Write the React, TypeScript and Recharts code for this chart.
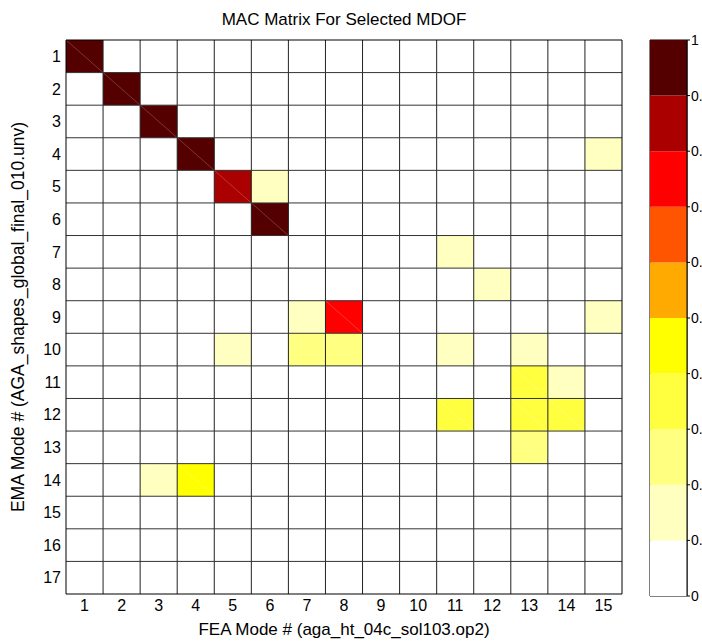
import React from 'react';
import {
  ScatterChart,
  Scatter,
  XAxis,
  YAxis,
  ReferenceArea,
  ReferenceLine,
  Label,
  BarChart,
  Bar,
} from 'recharts';

// FEA modes on x, EMA modes on y
const feaModes = [1, 2, 3, 4, 5, 6, 7, 8, 9, 10, 11, 12, 13, 14, 15];
const emaModes = [1, 2, 3, 4, 5, 6, 7, 8, 9, 10, 11, 12, 13, 14, 15, 16, 17];

// MAC values, one row per EMA mode (cols = FEA modes 1..15)
const macRows: number[][] = [
  [0.98, 0, 0, 0, 0, 0, 0, 0, 0, 0, 0, 0, 0, 0, 0],
  [0, 0.97, 0, 0, 0, 0, 0, 0, 0, 0, 0, 0, 0, 0, 0],
  [0, 0, 0.97, 0, 0, 0, 0, 0, 0, 0, 0, 0, 0, 0, 0],
  [0, 0, 0, 0.96, 0, 0, 0, 0, 0, 0, 0, 0, 0, 0, 0.14],
  [0, 0, 0, 0, 0.86, 0.15, 0, 0, 0, 0, 0, 0, 0, 0, 0],
  [0, 0, 0, 0, 0, 0.95, 0, 0, 0, 0, 0, 0, 0, 0, 0],
  [0, 0, 0, 0, 0, 0, 0, 0, 0, 0, 0.13, 0, 0, 0, 0],
  [0, 0, 0, 0, 0, 0, 0, 0, 0, 0, 0, 0.14, 0, 0, 0],
  [0, 0, 0, 0, 0, 0, 0.15, 0.76, 0, 0, 0, 0, 0, 0, 0.14],
  [0, 0, 0, 0, 0.15, 0, 0.26, 0.27, 0, 0, 0.15, 0, 0.15, 0, 0],
  [0, 0, 0, 0, 0, 0, 0, 0, 0, 0, 0, 0, 0.36, 0.16, 0],
  [0, 0, 0, 0, 0, 0, 0, 0, 0, 0, 0.35, 0, 0.37, 0.34, 0],
  [0, 0, 0, 0, 0, 0, 0, 0, 0, 0, 0, 0, 0.26, 0, 0],
  [0, 0, 0.15, 0.45, 0, 0, 0, 0, 0, 0, 0, 0, 0, 0, 0],
  [0, 0, 0, 0, 0, 0, 0, 0, 0, 0, 0, 0, 0, 0, 0],
  [0, 0, 0, 0, 0, 0, 0, 0, 0, 0, 0, 0, 0, 0, 0],
  [0, 0, 0, 0, 0, 0, 0, 0, 0, 0, 0, 0, 0, 0, 0],
];

// colour levels (10 bands, reversed "hot")
const levels = [0, 0.1, 0.2, 0.3, 0.4, 0.5, 0.6, 0.7, 0.8, 0.9, 1];
const levelColors = [
  '#ffffff', '#ffffbf', '#ffff80', '#ffff40', '#ffff00',
  '#ffaa00', '#ff5500', '#ff0000', '#aa0000', '#550000',
];

const colorFor = (v: number) => {
  let idx = Math.floor(v * 10);
  if (idx > 9) idx = 9;
  if (idx < 0) idx = 0;
  return levelColors[idx];
};

const cells = macRows.flatMap((row, r) =>
  row.map((mac, c) => ({ ema: emaModes[r], fea: feaModes[c], mac }))
);
const coloured = cells.filter((c) => c.mac >= levels[1]);

const colorbarRow: Record<string, number | string> = { name: 'MAC' };
levelColors.forEach((_, i) => {
  colorbarRow[`b${i}`] = levels[i + 1] - levels[i];
});

const font = '"Liberation Sans", Arial, sans-serif';

export default function App() {
  return (
    <div
      style={{
        position: 'absolute',
        left: 0,
        top: 0,
        width: 702,
        height: 644,
        background: '#fff',
        fontFamily: font,
        overflow: 'hidden',
      }}
    >
      <div
        style={{
          position: 'absolute',
          left: 66,
          width: 556,
          top: 10,
          textAlign: 'center',
          fontSize: 17,
          color: '#000',
        }}
      >
        MAC Matrix For Selected MDOF
      </div>

      <div style={{ position: 'absolute', left: 0, top: 0 }}>
        <ScatterChart width={640} height={644} margin={{ top: 40, right: 18, bottom: 0, left: 0 }}>
          <XAxis
            type="number"
            dataKey="fea"
            domain={[0.5, 15.5]}
            ticks={feaModes}
            interval={0}
            allowDataOverflow
            tickLine={false}
            axisLine={{ stroke: '#000' }}
            height={50}
            tickSize={4}
            tick={{ fill: '#000', fontSize: 16 }}
          >
            <Label
              value="FEA Mode # (aga_ht_04c_sol103.op2)"
              position="insideBottom"
              offset={9}
              style={{ fill: '#000', fontSize: 17 }}
            />
          </XAxis>
          <YAxis
            type="number"
            dataKey="ema"
            domain={[0.5, 17.5]}
            reversed
            ticks={emaModes}
            interval={0}
            allowDataOverflow
            tickLine={false}
            axisLine={{ stroke: '#000' }}
            width={66}
            tickSize={3}
            tick={{ fill: '#000', fontSize: 16 }}
          >
            <Label
              value="EMA Mode # (AGA_shapes_global_final_010.unv)"
              angle={-90}
              position="insideLeft"
              offset={18}
              style={{ fill: '#000', fontSize: 17.5, textAnchor: 'middle' }}
            />
          </YAxis>

          {coloured.map((c) => (
            <ReferenceArea
              key={`a-${c.ema}-${c.fea}`}
              x1={c.fea - 0.5}
              x2={c.fea + 0.5}
              y1={c.ema - 0.5}
              y2={c.ema + 0.5}
              fill={colorFor(c.mac)}
              fillOpacity={1}
              stroke="none"
            />
          ))}
          {coloured.map((c) => (
            <ReferenceLine
              key={`d-${c.ema}-${c.fea}`}
              segment={[
                { x: c.fea - 0.5, y: c.ema - 0.5 },
                { x: c.fea + 0.5, y: c.ema + 0.5 },
              ]}
              stroke="#ffffff"
              strokeOpacity={0.3}
              strokeWidth={0.7}
            />
          ))}

          {feaModes.slice(0, -1).map((m) => (
            <ReferenceLine key={`vx-${m}`} x={m + 0.5} stroke="#222" strokeWidth={1} />
          ))}
          {emaModes.slice(0, -1).map((m) => (
            <ReferenceLine key={`hy-${m}`} y={m + 0.5} stroke="#333" strokeWidth={1} />
          ))}
          <ReferenceLine x={15.5} stroke="#000" strokeWidth={1} />
          <ReferenceLine y={0.5} stroke="#000" strokeWidth={1} />

          <Scatter data={cells} isAnimationActive={false} shape={() => <g />} />
        </ScatterChart>
      </div>

      <div style={{ position: 'absolute', left: 600, top: 0 }}>
        <BarChart
          width={102}
          height={644}
          data={[colorbarRow]}
          margin={{ top: 40, right: 0, bottom: 48, left: 50 }}
          barCategoryGap={0}
          barGap={0}
        >
          <XAxis dataKey="name" hide />
          <YAxis
            type="number"
            orientation="right"
            domain={[0, 1]}
            ticks={levels}
            interval={0}
            width={15}
            tickSize={3}
            tickMargin={1}
            tickLine={{ stroke: '#000' }}
            axisLine={{ stroke: '#000' }}
            tick={{ fill: '#000', fontSize: 14 }}
          />
          {levelColors.map((col, i) => (
            <Bar key={col} dataKey={`b${i}`} stackId="cb" fill={col} isAnimationActive={false} />
          ))}
          <ReferenceArea y1={0} y2={1} fill="none" stroke="#000" strokeWidth={1} />
        </BarChart>
      </div>
    </div>
  );
}
